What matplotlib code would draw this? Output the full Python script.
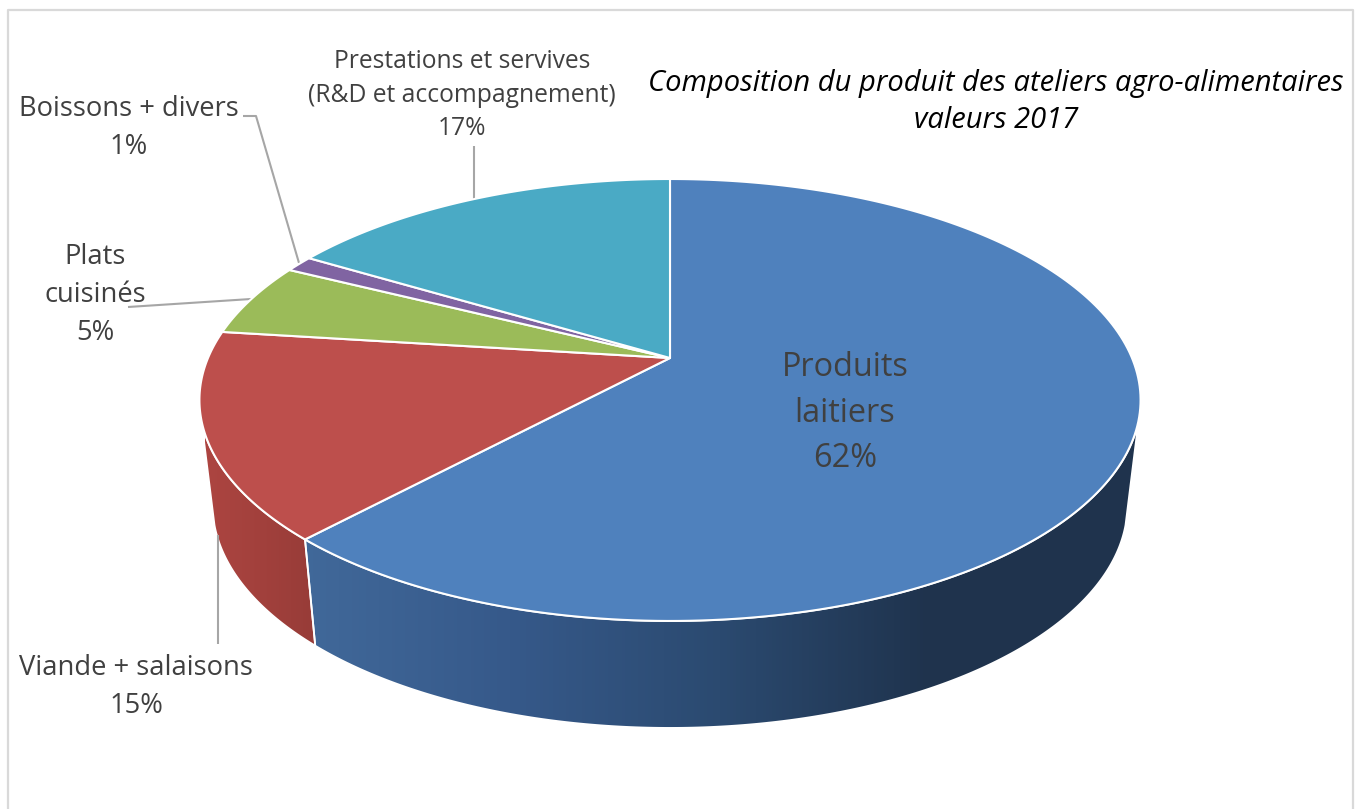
import numpy as np
import matplotlib
matplotlib.use('Agg')
import matplotlib.pyplot as plt
from matplotlib.colors import LinearSegmentedColormap
from matplotlib.patches import Polygon

plt.rcParams['font.family'] = ['Open Sans', 'DejaVu Sans']

# shares (labels show the rounded ones), clockwise from 12 o'clock
categories = ['Produits laitiers', 'Viande + salaisons', 'Plats cuisinés',
              'Boissons + divers', 'Prestations et servives']
shares = [61.9, 15.1, 5.4, 1.2, 16.4]
shown_pct = ['62%', '15%', '5%', '1%', '17%']
colors = ['#4f81bd', '#bd4f4c', '#9bbb59', '#8064a2', '#4aaac5']

title_lines = ['Composition du produit des ateliers agro-alimentaires', 'valeurs 2017']

# perspective of the disc, in pixels
cx, cy = 670, 358
kx, ky, persp = 462, 213, 0.19
wall_scale_x, wall_scale_y, wall_drop = 0.972, 1.009, 104.6
silhouette = 106  # degrees from the back where the side wall becomes visible


def rim(deg):
    t = np.radians(deg)
    x, y = np.sin(t), np.cos(t)
    d = 1 + persp * y
    return kx * x / d, ky * y / d


def top_xy(deg):
    x, y = rim(deg)
    return cx + x, cy - y


def bottom_xy(deg):
    x, y = rim(deg)
    return cx + x * wall_scale_x, cy - (y * wall_scale_y - wall_drop)


def draw_wall(ax, a0, a1, stops, x0, x1):
    deg = np.linspace(a0, a1, 200)
    tx, ty = top_xy(deg)
    bx, by = bottom_xy(deg)
    pts = np.r_[np.c_[tx, ty], np.c_[bx, by][::-1]]
    patch = Polygon(pts, closed=True, fc='none', ec='none')
    ax.add_patch(patch)
    cmap = LinearSegmentedColormap.from_list('wall', stops)
    im = ax.imshow(np.linspace(0, 1, 256)[None, :], cmap=cmap, vmin=0, vmax=1,
                   extent=(x0, x1, 809, 0), aspect='auto', zorder=2)
    im.set_clip_path(patch)
    ax.add_patch(Polygon(pts, closed=True, fc='none', ec='white', lw=1.3, zorder=3))


fig = plt.figure(figsize=(13.6, 8.09), dpi=100)
ax = fig.add_axes([0, 0, 1, 1])
ax.set_xlim(0, 1360)
ax.set_ylim(809, 0)
ax.axis('off')

# chart frame, open at the bottom of the crop
ax.plot([8, 8, 1353, 1353], [809, 10, 10, 809], color='#d9d9d9', lw=1.6, zorder=1)

edges = np.r_[0, np.cumsum(shares)] * 3.6

# side walls of the two front slices
draw_wall(ax, silhouette, edges[1],
          ['#41699a', '#36598a', '#2b4a70', '#1f334d', '#1f334d'], 300, 1140)
draw_wall(ax, edges[1], 360 - silhouette, ['#ad4541', '#973c38'], 205, 316)

# top face
for i in range(len(shares)):
    deg = np.linspace(edges[i], edges[i + 1], 200)
    tx, ty = top_xy(deg)
    pts = np.r_[[[cx, cy]], np.c_[tx, ty]]
    ax.add_patch(Polygon(pts, closed=True, fc=colors[i], ec='white', lw=1.5,
                         joinstyle='round', zorder=4))

# leader lines
leader = dict(color='#a6a6a6', lw=1.5, zorder=3.5, solid_capstyle='butt')
ax.plot([474, 474], [146, 199], **leader)
ax.plot([243, 256, 299], [116, 116, 263], **leader)
ax.plot([128, 251], [307, 299], **leader)
ax.plot([218, 218], [535, 644], **leader)

# data labels
grey = '#404040'
ax.text(845, 413, 'Produits\nlaitiers\n' + shown_pct[0], ha='center', va='center',
        fontsize=23.4, color=grey, linespacing=1.49, zorder=6)
ax.text(136, 687, categories[1] + '\n' + shown_pct[1], ha='center', va='center',
        fontsize=19.7, color=grey, linespacing=1.44, zorder=6)
ax.text(95, 295, 'Plats\ncuisinés\n' + shown_pct[2], ha='center', va='center',
        fontsize=19.7, color=grey, linespacing=1.5, zorder=6)
ax.text(129, 128, categories[3] + '\n' + shown_pct[3], ha='center', va='center',
        fontsize=19.7, color=grey, linespacing=1.44, zorder=6)
ax.text(462, 95, categories[4] + '\n(R&D et accompagnement)\n' + shown_pct[4],
        ha='center', va='center', fontsize=17.7, color=grey, linespacing=1.43, zorder=6)

# title
ax.text(996, 102, '\n'.join(title_lines), ha='center', va='center', fontsize=21,
        style='italic', color='black', linespacing=1.32, zorder=6)

plt.savefig('out.png', dpi=100)
